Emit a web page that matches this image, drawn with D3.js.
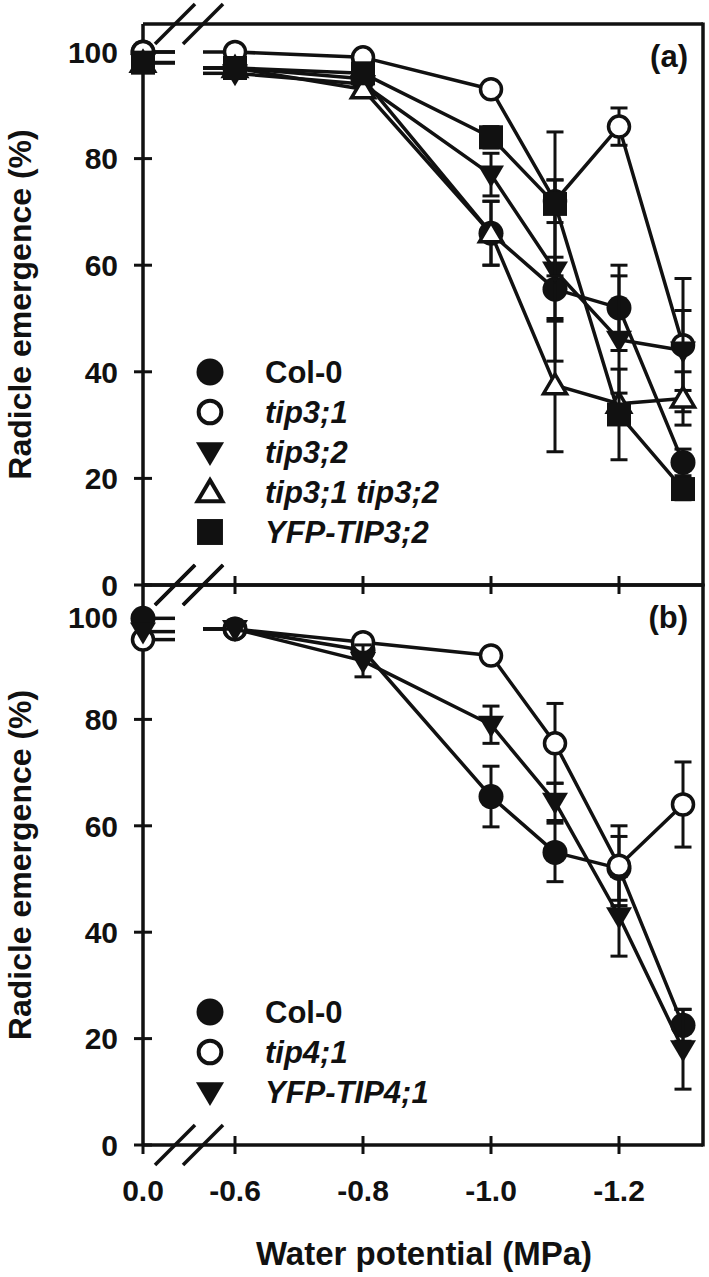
<!DOCTYPE html>
<html><head><meta charset="utf-8">
<script src="https://cdn.jsdelivr.net/npm/d3@7"></script>
<style>
body{margin:0;background:#fff}
text{font-family:"Liberation Sans",Arial,sans-serif;font-weight:bold;fill:#111}
</style>
</head><body><svg id="c" width="709" height="1277"></svg>
<script>
// ---------- data ----------
const potentials = [0, -0.6, -0.8, -1.0, -1.1, -1.2, -1.3];
const xTickValues = [0, -0.6, -0.8, -1.0, -1.2];
const xTickLabels = ["0.0", "-0.6", "-0.8", "-1.0", "-1.2"];
const yTickValues = [0, 20, 40, 60, 80, 100];

// panel (a)
const namesA = ["Col-0", "tip3;1", "tip3;2", "tip3;1 tip3;2", "YFP-TIP3;2"];
const col0A    = [100, 97, 95, 66, 55.5, 52, 23];
const col0AErr = [0.5, 0.5, 1, 6, 6, 8, 2.5];
const tip31A    = [100, 100, 99, 93, 72, 86, 45];
const tip31AErr = [0.5, 0.5, 0.5, 1, 4, 3.5, 12.5];
const tip32A    = [98, 96, 94, 77, 59, 46, 44];
const tip32AErr = [1, 1, 1, 4, 17, 12, 7.5];
const dblA    = [98, 97, 93, 66, 37.5, 34, 35];
const dblAErr = [1, 1, 1, 6, 12.5, 2, 5];
const yfp32A    = [98, 97, 96, 84, 71.5, 32, 18];
const yfp32AErr = [1, 1, 1, 2, 13.5, 8.5, 2];

// panel (b)
const namesB = ["Col-0", "tip4;1", "YFP-TIP4;1"];
const col0B    = [99, 97, 93, 65.5, 55, 52, 22.5];
const col0BErr = [0.5, 1, 1, 5.7, 5.5, 6, 3];
const tip41B    = [95, 97, 94.5, 92, 75.5, 52.5, 64];
const tip41BErr = [1, 1, 1, 1, 7.5, 7.5, 8];
const yfp41B    = [96.5, 97, 91, 79, 64.5, 43, 18];
const yfp41BErr = [1, 1, 3, 3.5, 3.5, 7.5, 7.5];

// ---------- layout ----------
const svg = d3.select("#c");
const left = 143, right = 703;
const breakVal = -0.3;
const x = d3.scaleLinear().domain([0, breakVal, -0.6, -1.33125]).range([left, 189, 235, right]);
const panels = [
  {top: 24, bottom: 585, label: "(a)", names: namesA,
   marks: ["circleFilled", "circleOpen", "triDownFilled", "triUpOpen", "squareFilled"],
   vals: [col0A, tip31A, tip32A, dblA, yfp32A],
   errs: [col0AErr, tip31AErr, tip32AErr, dblAErr, yfp32AErr],
   legendY: 372, italic: [false, true, true, true, true]},
  {top: 585, bottom: 1145, label: "(b)", names: namesB,
   marks: ["circleFilled", "circleOpen", "triDownFilled"],
   vals: [col0B, tip41B, yfp41B],
   errs: [col0BErr, tip41BErr, yfp41BErr],
   legendY: 1012, italic: [false, true, true]}
];

function symbolPath(type, big) {
  const k = big ? 1.08 : 1;
  switch (type) {
    case "circleFilled": return d3.symbol().type(d3.symbolCircle).size(Math.PI * (12.5 * k) ** 2)();
    case "circleOpen": return d3.symbol().type(d3.symbolCircle).size(Math.PI * (10.5 * k) ** 2)();
    case "triDownFilled": return `M${-13*k},${-9*k}L${13*k},${-9*k}L0,${13*k}Z`;
    case "triUpOpen": return `M0,${-11*k}L${11.5*k},${8.5*k}L${-11.5*k},${8.5*k}Z`;
    case "squareFilled": return `M${-12*k},${-12*k}h${24*k}v${24*k}h${-24*k}Z`;
  }
}
function symFill(type) { return type.endsWith("Open") ? "#fff" : "#111"; }
function symStroke(type) { return type.endsWith("Open") ? 3.5 : 0; }

const ink = "#111";
const g = svg.append("g");

panels.forEach((p, pi) => {
  const y = d3.scaleLinear().domain([0, 100 * (p.bottom - p.top) / (p.bottom - p.top - 28)]).range([p.bottom, p.top]);
  // y axis: crossing ticks
  g.append("line").attr("x1", left).attr("x2", left).attr("y1", p.top).attr("y2", p.bottom)
    .attr("stroke", ink).attr("stroke-width", 3.5);
  yTickValues.forEach(v => {
    g.append("line").attr("x1", left - 9).attr("x2", left + 9).attr("y1", y(v)).attr("y2", y(v))
      .attr("stroke", ink).attr("stroke-width", 3);
    const nudge = (pi === 1 && v === 100) ? 4 : 0;
    g.append("text").attr("x", 118).attr("y", y(v) + nudge).attr("dy", "0.36em").attr("text-anchor", "end")
      .attr("font-size", 30).text(v);
  });
  // frame top & right
  g.append("line").attr("x1", left).attr("x2", right).attr("y1", p.top).attr("y2", p.top)
    .attr("stroke", ink).attr("stroke-width", 3.5);
  g.append("line").attr("x1", right).attr("x2", right).attr("y1", p.top - 1.5).attr("y2", p.bottom + 1.5)
    .attr("stroke", ink).attr("stroke-width", 3.5);
  // bottom axis
  g.append("line").attr("x1", left).attr("x2", right).attr("y1", p.bottom).attr("y2", p.bottom)
    .attr("stroke", ink).attr("stroke-width", 3.5);
  xTickValues.slice(1).forEach(v => {
    g.append("line").attr("x1", x(v)).attr("x2", x(v)).attr("y1", p.bottom - 9).attr("y2", p.bottom + 9)
      .attr("stroke", ink).attr("stroke-width", 3);
  });
  // break marks on top and bottom lines
  [p.top, p.bottom].forEach(yy => {
    [-14, 14].forEach(dx => {
      const cx = x(breakVal) + dx;
      g.append("line").attr("x1", cx - 20).attr("y1", yy + 20).attr("x2", cx + 20).attr("y2", yy - 20)
        .attr("stroke", ink).attr("stroke-width", 3.5);
    });
  });
  // panel label
  g.append("text").attr("x", 688).attr("y", p.top + 43).attr("text-anchor", "end")
    .attr("font-size", 31).text(p.label);
  // y title, centred on the panel
  g.append("text").attr("transform", `translate(31,${(p.top + p.bottom) / 2}) rotate(-90)`)
    .attr("text-anchor", "middle").attr("font-size", 32).text("Radicle emergence (%)");

  // series
  const xb1 = x(breakVal) - 14, xb2 = x(breakVal) + 14;
  p.vals.forEach((vals, si) => {
    const errs = p.errs[si];
    const sg = g.append("g");
    // error bars
    vals.forEach((v, i) => {
      const e = errs[i];
      if (e < 1.5) return;
      const xx = x(potentials[i]);
      sg.append("line").attr("x1", xx).attr("x2", xx).attr("y1", y(v - e)).attr("y2", y(v + e))
        .attr("stroke", ink).attr("stroke-width", 3);
      [v - e, v + e].forEach(w => sg.append("line").attr("x1", xx - 8.5).attr("x2", xx + 8.5)
        .attr("y1", y(w)).attr("y2", y(w)).attr("stroke", ink).attr("stroke-width", 3));
    });
    // stubs across the break
    sg.append("line").attr("x1", x(potentials[0])).attr("x2", xb1).attr("y1", y(vals[0])).attr("y2", y(vals[0]))
      .attr("stroke", ink).attr("stroke-width", 3.5);
    sg.append("line").attr("x1", xb2).attr("x2", x(potentials[1])).attr("y1", y(vals[1])).attr("y2", y(vals[1]))
      .attr("stroke", ink).attr("stroke-width", 3.5);
    // connecting line
    const line = d3.line().x((d, i) => x(potentials[i + 1])).y(d => y(d));
    sg.append("path").attr("d", line(vals.slice(1))).attr("fill", "none")
      .attr("stroke", ink).attr("stroke-width", 3.5).attr("stroke-linejoin", "round");
    // markers
    const type = p.marks[si];
    vals.forEach((v, i) => {
      sg.append("path").attr("d", symbolPath(type, false))
        .attr("transform", `translate(${x(potentials[i])},${y(v)})`)
        .attr("fill", symFill(type)).attr("stroke", ink).attr("stroke-width", symStroke(type));
    });
    // legend
    const ly = p.legendY + si * 40;
    g.append("path").attr("d", symbolPath(type, true)).attr("transform", `translate(210,${ly})`)
      .attr("fill", symFill(type)).attr("stroke", ink).attr("stroke-width", symStroke(type) ? 4 : 0);
    g.append("text").attr("x", 265).attr("y", ly).attr("dy", "0.36em").attr("font-size", 31)
      .attr("font-style", p.italic[si] ? "italic" : "normal").text(p.names[si]);
  });
});

// x tick labels (bottom panel) and small tick at 0.0
const bottomY = panels[1].bottom;
g.append("line").attr("x1", left).attr("x2", left).attr("y1", bottomY).attr("y2", bottomY + 9)
  .attr("stroke", ink).attr("stroke-width", 3);
xTickValues.forEach((v, i) => {
  g.append("text").attr("x", x(v)).attr("y", 1201).attr("text-anchor", "middle")
    .attr("font-size", 30).text(xTickLabels[i]);
});
g.append("text").attr("x", 424).attr("y", 1265).attr("text-anchor", "middle")
  .attr("font-size", 33).text("Water potential (MPa)");
</script>
</body></html>
